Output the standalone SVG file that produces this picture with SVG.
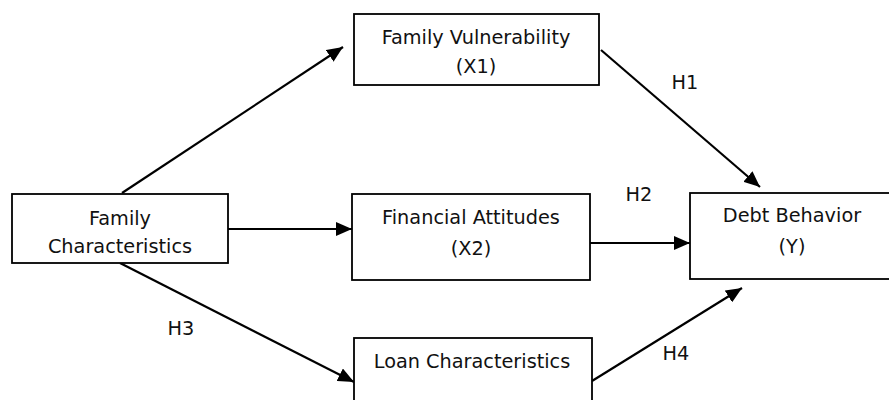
<svg xmlns="http://www.w3.org/2000/svg" width="889" height="400" viewBox="0 0 889 400">
<style>
.box{fill:#fff;stroke:#000;stroke-width:1.8}
.t{font-family:"DejaVu Sans",Verdana,sans-serif;font-size:19.3px;fill:#111;text-anchor:middle}
.c{stroke:#000;stroke-width:2.2;fill:none;marker-end:url(#ah)}
</style>
<defs>
<marker id="ah" markerUnits="userSpaceOnUse" markerWidth="18" markerHeight="14" refX="16" refY="7" orient="auto">
<path d="M0,0 L16,7 L0,14 z" fill="#000"/>
</marker>
</defs>
<rect width="889" height="400" fill="#fff"/>
<g id="connectors">
<line class="c" x1="122" y1="193" x2="343" y2="47"/>
<line class="c" x1="228" y1="229" x2="352" y2="229"/>
<line class="c" x1="120" y1="263" x2="354" y2="382"/>
<line class="c" x1="601" y1="50" x2="760" y2="187"/>
<line class="c" x1="590" y1="243" x2="690" y2="243"/>
<line class="c" x1="592" y1="381" x2="742" y2="288"/>
</g>
<g id="x1">
<rect class="box" x="354" y="14" width="245" height="71"/>
<text class="t" x="476" y="44">Family Vulnerability</text>
<text class="t" x="476" y="73">(X1)</text>
</g>
<g id="family">
<rect class="box" x="12" y="194" width="216" height="69"/>
<text class="t" x="120" y="225">Family</text>
<text class="t" x="120" y="253">Characteristics</text>
</g>
<g id="x2">
<rect class="box" x="352" y="194" width="238" height="86"/>
<text class="t" x="471" y="224">Financial Attitudes</text>
<text class="t" x="471" y="255">(X2)</text>
</g>
<g id="y">
<rect class="box" x="690" y="193" width="210" height="86"/>
<text class="t" x="792" y="222">Debt Behavior</text>
<text class="t" x="792" y="253">(Y)</text>
</g>
<g id="loan">
<rect class="box" x="354" y="338" width="238" height="70"/>
<text class="t" x="472" y="368">Loan Characteristics</text>
</g>
<g id="labels">
<text class="t" x="685" y="89">H1</text>
<text class="t" x="639" y="201">H2</text>
<text class="t" x="181" y="335">H3</text>
<text class="t" x="676" y="360">H4</text>
</g>
</svg>
